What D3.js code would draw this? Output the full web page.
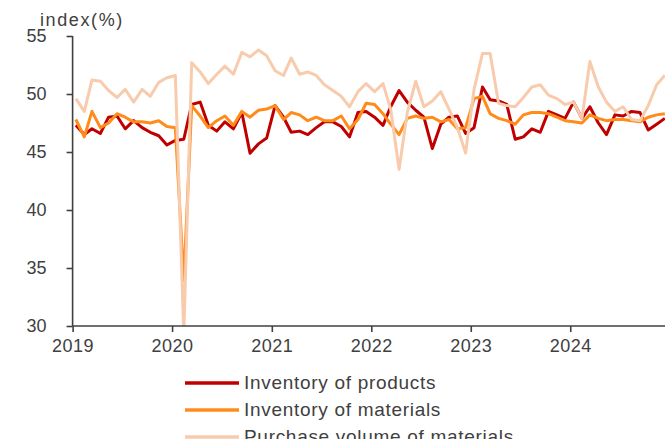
<!DOCTYPE html>
<html>
<head>
  <meta charset="UTF-8">
  <script src="https://d3js.org/d3.v7.min.js"></script>
  <style>
    body { margin:0; background:#fff; }
    text { font-family: "Liberation Sans", Arial, sans-serif; fill:#404040; }
  </style>
</head>
<body>
<svg width="665" height="439"></svg>
<script>
// monthly values, Jan 2019 .. Dec 2024
var products = [
  47.3, 46.5, 47.0, 46.6, 48.0, 48.1, 47.0, 47.7, 47.1, 46.7, 46.4, 45.6,
  46.0, 46.1, 49.1, 49.3, 47.3, 46.8, 47.6, 47.0, 48.4, 44.9, 45.7, 46.2,
  49.0, 48.0, 46.7, 46.8, 46.5, 47.1, 47.6, 47.6, 47.2, 46.3, 48.4, 48.5,
  48.0, 47.3, 48.9, 50.3, 49.3, 48.6, 48.0, 45.3, 47.4, 48.0, 48.1, 46.6,
  47.1, 50.6, 49.5, 49.4, 49.1, 46.1, 46.3, 47.0, 46.7, 48.5, 48.2, 47.9,
  49.3, 47.9, 48.9, 47.5, 46.5, 48.2, 48.1, 48.5, 48.4, 46.9, 47.4, 47.9
];
var materials = [
  47.8, 46.3, 48.5, 47.1, 47.5, 48.3, 48.0, 47.6, 47.6, 47.5, 47.7, 47.2,
  47.1, 33.9, 49.0, 48.1, 47.1, 47.7, 48.1, 47.3, 48.5, 48.0, 48.6, 48.7,
  49.0, 47.8, 48.4, 48.2, 47.7, 48.0, 47.7, 47.7, 48.1, 47.0, 47.8, 49.2,
  49.1, 48.3, 47.4, 46.5, 47.9, 48.1, 47.9, 48.0, 47.6, 47.8, 47.0, 47.1,
  49.6, 49.8, 48.3, 47.9, 47.7, 47.4, 48.2, 48.4, 48.4, 48.3, 48.0, 47.7,
  47.6, 47.5, 48.2, 47.9, 47.7, 47.8, 47.8, 47.7, 47.6, 48.0, 48.2, 48.3
];
var purchase = [
  49.6, 48.5, 51.2, 51.1, 50.3, 49.7, 50.4, 49.3, 50.4, 49.8, 51.0, 51.4,
  51.6, 29.3, 52.7, 51.9, 50.9, 51.7, 52.4, 51.7, 53.6, 53.2, 53.8, 53.3,
  52.0, 51.6, 53.1, 51.7, 51.9, 51.6, 50.8, 50.3, 49.8, 48.9, 50.2, 50.9,
  50.2, 50.9, 48.7, 43.5, 48.4, 51.1, 48.9, 49.4, 50.2, 48.7, 47.1, 44.9,
  50.4, 53.5, 53.5, 49.2, 49.0, 48.9, 49.7, 50.6, 50.8, 49.9, 49.6, 49.1,
  49.3, 47.9, 52.8, 50.6, 49.3, 48.5, 48.9, 47.8, 47.7, 49.0, 50.8, 51.6
];
var seriesNames = ["Inventory of products", "Inventory of materials", "Purchase volume of materials"];
var colors = ["#c00000", "#ff8c1a", "#f8cbad"];
var yTicks = [30, 35, 40, 45, 50, 55];
var years = [2019, 2020, 2021, 2022, 2023, 2024];

var svg = d3.select("svg");

var x = d3.scaleTime()
    .domain([new Date(2019, 0, 1), new Date(2025, 0, 1)])
    .range([72.6, 670]);
var y = d3.scaleLinear().domain([30, 55]).range([326, 36]);

// points sit mid-month
function dateOf(i) { return new Date(2019, i, 13); }

svg.append("clipPath").attr("id", "plot")
  .append("rect").attr("x", 72).attr("y", 0).attr("width", 600).attr("height", 326);

var line = d3.line()
    .x(function(d, i) { return x(dateOf(i)); })
    .y(function(d) { return y(d); });

var g = svg.append("g").attr("clip-path", "url(#plot)");
[products, materials, purchase].forEach(function(s, k) {
  g.append("path")
    .attr("d", line(s))
    .attr("fill", "none")
    .attr("stroke", colors[k])
    .attr("stroke-width", 3)
    .attr("stroke-linejoin", "round");
});

// y axis
var yAxis = svg.append("g")
    .attr("transform", "translate(72.6,0)")
    .call(d3.axisLeft(y).tickValues(yTicks).tickSize(6).tickPadding(20));
yAxis.select(".domain").attr("stroke", "#404040").attr("stroke-width", 1.6)
  .attr("d", "M0," + y(55) + "V" + y(30));
yAxis.selectAll(".tick line").attr("stroke", "#404040").attr("stroke-width", 1.6);
yAxis.selectAll(".tick text").style("font-size", "18px").attr("fill", "#404040")
  .attr("font-family", null);

// x axis
var xAxis = svg.append("g")
    .attr("transform", "translate(0,326)")
    .call(d3.axisBottom(x)
      .tickValues(years.map(function(yr) { return new Date(yr, 0, 1); }))
      .tickFormat(d3.timeFormat("%Y"))
      .tickSize(6).tickPadding(7));
xAxis.select(".domain").attr("stroke", "#404040").attr("stroke-width", 1.6)
  .attr("d", "M72.6,0H665");
xAxis.selectAll(".tick line").attr("stroke", "#404040").attr("stroke-width", 1.6);
xAxis.selectAll(".tick text").style("font-size", "18px").attr("fill", "#404040")
  .attr("font-family", null).style("letter-spacing", "0.5px");

svg.append("text")
    .attr("x", 40).attr("y", 26)
    .style("font-size", "18px")
    .style("letter-spacing", "1.6px")
    .text("index(%)");

// legend (last entry runs off the bottom, as in the source)
var leg = svg.append("g");
seriesNames.forEach(function(name, k) {
  var ly = 383 + k * 27;
  leg.append("line")
    .attr("x1", 185).attr("x2", 239)
    .attr("y1", ly).attr("y2", ly)
    .attr("stroke", colors[k]).attr("stroke-width", 3.5);
  leg.append("text")
    .attr("x", 244).attr("y", ly + 6)
    .style("font-size", "19px")
    .style("letter-spacing", "0.7px")
    .text(name);
});
</script>
</body>
</html>
